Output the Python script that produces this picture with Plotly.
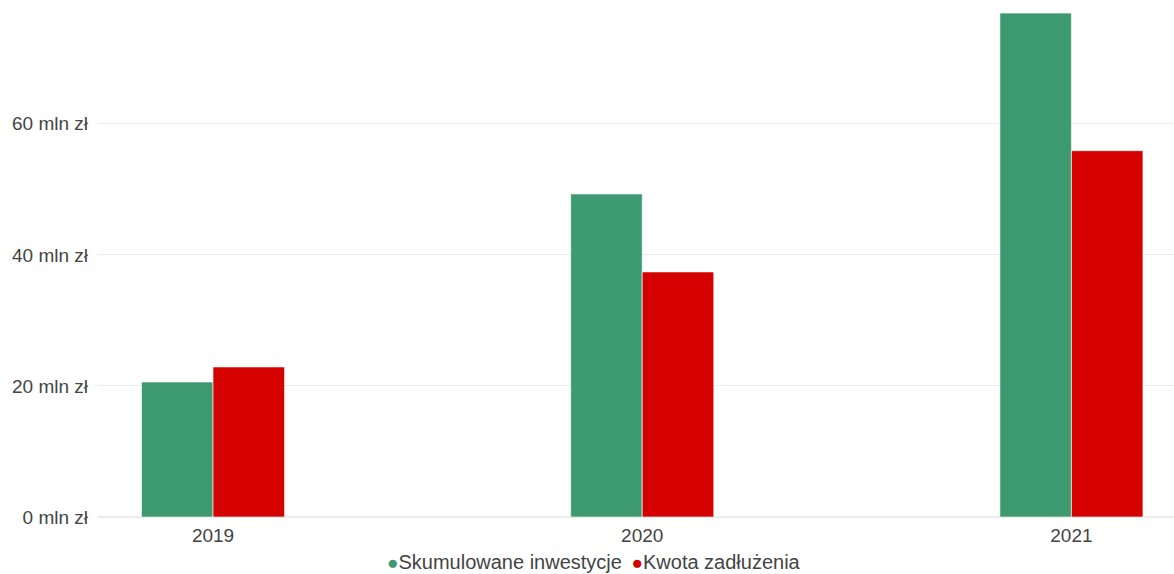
import plotly.graph_objects as go

years = ["2019", "2020", "2021"]
inwestycje = [20.6, 49.3, 76.9]
zadluzenie = [22.9, 37.4, 55.9]
series_names = ["Skumulowane inwestycje", "Kwota zadłużenia"]
colors = ["#3d9970", "#d50000"]

fig = go.Figure()
for name, vals, col in zip(series_names, [inwestycje, zadluzenie], colors):
    fig.add_trace(go.Bar(x=years, y=vals, name=name, showlegend=False,
                         marker=dict(color=col, line=dict(color="rgba(255,255,255,0.6)", width=1))))

legend_text = "&nbsp;&#8201;".join(
    f"<span style='color:{c};font-size:19px'>●</span>{n}" for n, c in zip(series_names, colors)
)
fig.add_annotation(text=legend_text, xref="paper", yref="paper", x=0.461, y=-0.087,
                   xanchor="center", yanchor="middle", showarrow=False,
                   font=dict(size=20, color="#444"))

fig.update_layout(
    width=1174, height=574,
    margin=dict(l=98, r=0, t=0, b=57),
    paper_bgcolor="white", plot_bgcolor="white",
    barmode="group", bargap=0.6667, bargroupgap=0,
    showlegend=False,
    font=dict(family="Liberation Sans, Arial, sans-serif", size=19, color="#444"),
    xaxis=dict(type="category", range=[-0.268, 2.239], showgrid=False, automargin=False,
               showline=False, ticks="", ticklabelstandoff=5,
               tickfont=dict(size=19, color="#444")),
    yaxis=dict(range=[0, 78.9], dtick=20, ticksuffix=" mln zł", showgrid=True, automargin=False,
               gridcolor="#ececec", zeroline=True, zerolinecolor="#ececec",
               showline=False, ticks="", ticklabelstandoff=9,
               tickfont=dict(size=19, color="#444")),
)
fig.write_html("out.html", config={"displayModeBar": False},
               post_script="document.body.style.margin='0';")
